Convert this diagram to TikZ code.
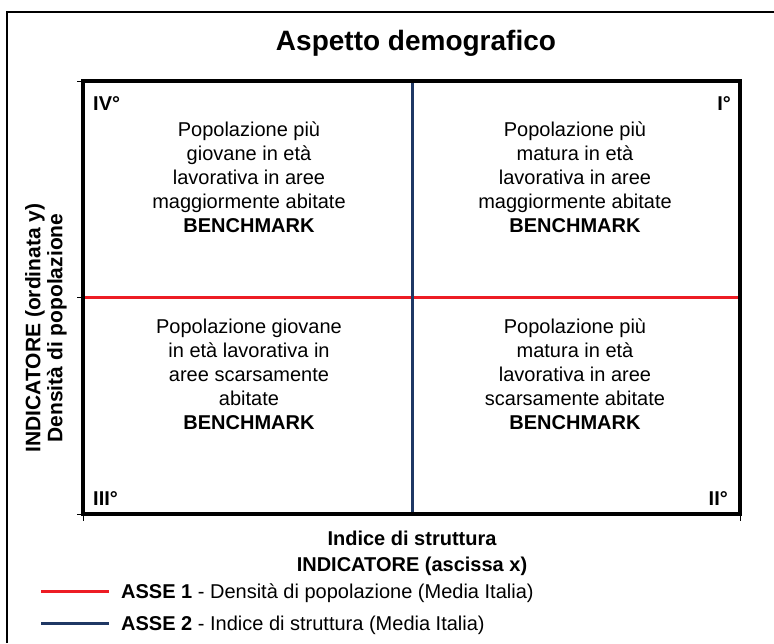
\documentclass[tikz,border=0pt]{standalone}
\usepackage{fontspec}
\setmainfont{Liberation Sans}
\definecolor{asseuno}{HTML}{ED1C24}
\definecolor{assedue}{HTML}{1F3864}
\tikzset{
  quadtext/.style={align=center,inner sep=0pt,font=\fontsize{20}{24}\selectfont},
  corner/.style={inner sep=0pt,font=\fontsize{20}{24}\selectfont\bfseries},
  axislabel/.style={align=center,inner sep=0pt,font=\fontsize{20}{26}\selectfont\bfseries},
  legendtext/.style={inner sep=0pt,anchor=base west,font=\fontsize{20}{24}\selectfont},
}

\begin{document}
\begin{tikzpicture}[x=1pt,y=-1pt]
                \useasboundingbox (0,0) rectangle (774,643);
                \fill[white] (0,0) rectangle (774,643);
                \draw[line width=2.5pt] (7,643) -- (7,12) -- (774,12);
                \node[inner sep=0pt,anchor=base,font=\fontsize{28}{30}\selectfont\bfseries] (title) at (416,50) {Aspetto demografico};
                % assi e riquadro
                \coordinate (nw) at (83,81);
                \coordinate (se) at (740,514);
                \draw[asseuno,line width=3pt] (83,297) -- (740,297);
                \draw[assedue,line width=3pt] (412,81) -- (412,514);
                \draw[line width=3.5pt] (nw) rectangle (se);
                \foreach \y in {81,297,514}
                    \draw[line width=0.8pt] (77,\y) -- (83,\y);
                \foreach \x in {83,740}
                    \draw[line width=0.8pt] (\x,514) -- (\x,521);
                % quadranti
                \node[corner,anchor=base west] (q4) at (93,110) {IV°};
                \node[corner,anchor=base east] (q1) at (731,110) {I°};
                \node[corner,anchor=base west] (q3) at (93,505) {III°};
                \node[corner,anchor=base east] (q2) at (728,505) {II°};
                \node[quadtext] (t4) at (249,177.5) {Popolazione più\\giovane in età\\lavorativa in aree\\maggiormente abitate\\\textbf{BENCHMARK}};
                \node[quadtext] (t1) at (575,177.5) {Popolazione più\\matura in età\\lavorativa in aree\\maggiormente abitate\\\textbf{BENCHMARK}};
                \node[quadtext] (t3) at (249,374.5) {Popolazione giovane\\in età lavorativa in\\aree scarsamente\\abitate\\\textbf{BENCHMARK}};
                \node[quadtext] (t2) at (575,374.5) {Popolazione più\\matura in età\\lavorativa in aree\\scarsamente abitate\\\textbf{BENCHMARK}};
                % etichette degli assi
                \node[axislabel,rotate=90,font=\fontsize{21}{22}\selectfont\bfseries] (ylab) at (46,328) {INDICATORE (ordinata y)\\Densità di popolazione};
                \node[axislabel] (xlab) at (412,553) {Indice di struttura\\INDICATORE (ascissa x)};
                % legenda
                \coordinate (r1) at (41,591);
                \coordinate (r2) at (109,591);
                \coordinate (b1) at (41,623);
                \coordinate (b2) at (109,623);
                \draw[asseuno,line width=3pt] (r1) -- (r2);
                \draw[assedue,line width=3pt] (b1) -- (b2);
                \node[legendtext] (asse1) at (121,598) {\textbf{ASSE 1} - Densità di popolazione (Media Italia)};
                \node[legendtext] (asse2) at (121,630) {\textbf{ASSE 2} - Indice di struttura (Media Italia)};
            \end{tikzpicture}
\end{document}
